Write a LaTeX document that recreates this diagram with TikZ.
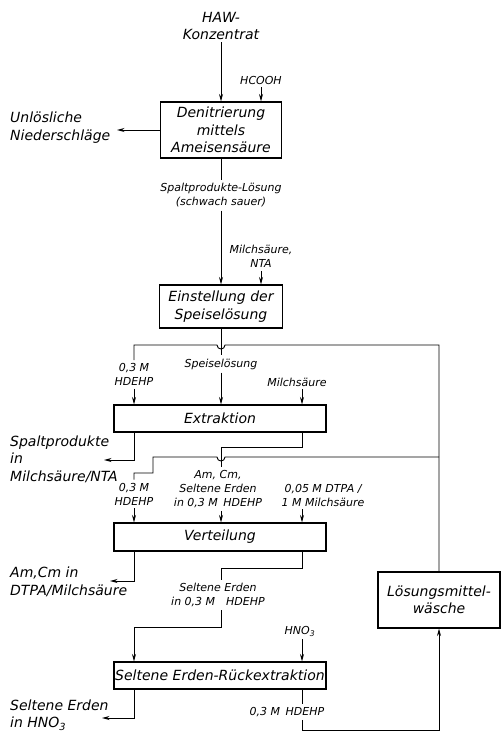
\documentclass[tikz,border=0pt]{standalone}
\usepackage{fontspec}
\setmainfont{DejaVu Sans}
\usetikzlibrary{arrows.meta}
\begin{document}
\begin{tikzpicture}[x=1pt,y=-1pt,
  line/.style={line width=0.9pt},
  arr/.style={line width=0.9pt,-{Stealth[length=7.5pt,width=4pt]}},
  box/.style={draw,line width=1.1pt,inner sep=1pt,align=center,font=\itshape\fontsize{14}{17.5}\selectfont},
  big/.style={inner sep=2pt,align=center,font=\itshape\fontsize{14}{17.5}\selectfont},
  bigl/.style={inner sep=0pt,anchor=west,align=left,font=\itshape\fontsize{14}{17.5}\selectfont},
  small/.style={inner sep=3pt,align=center,font=\itshape\fontsize{11}{14}\selectfont}]
\useasboundingbox[fill=white] (0,0) rectangle (502,735);
% column coordinates
\coordinate (xL) at (134,0);
\coordinate (xM) at (221,0);
\coordinate (xR) at (302,0);
% boxes
\node[box,minimum width=121pt,minimum height=56pt] (b1) at (221,130) {Denitrierung\\mittels\\Ameisensäure};
\node[box,minimum width=123pt,minimum height=43pt] (b2) at (221,306.5) {Einstellung der\\Speiselösung};
\node[box,minimum width=212pt,minimum height=27pt] (b3) at (220,418.5) {Extraktion};
\node[box,minimum width=212pt,minimum height=28pt] (b4) at (220,537) {Verteilung};
\node[box,minimum width=212pt,minimum height=27pt] (b6) at (220,675.5) {Seltene Erden-Rückextraktion};
\node[box,minimum width=122pt,minimum height=56pt] (b5) at (439,600) {Lösungsmittel-\\wäsche};
% labels
\node[big] (haw) at (221,26) {HAW-\\Konzentrat};
\node[small] (hcooh) at (261,80) {HCOOH};
\node[bigl] (unl) at (10,127.5) {Unlösliche\\Niederschläge};
\node[small] (spalt) at (221,195.5) {Spaltprodukte-Lösung\\(schwach sauer)};
\node[small] (milch) at (261,256.5) {Milchsäure,\\NTA};
\node[small] (hd1) at (134,374.5) {0,3 M\\HDEHP};
\node[small] (speise) at (221,364) {Speiselösung};
\node[small] (mi2) at (297,382) {Milchsäure};
\node[bigl] (spnta) at (10,459) {Spaltprodukte\\in\\Milchsäure/NTA};
\node[small] (hd2) at (134,494) {0,3 M\\HDEHP};
\node[small] (amcm) at (218,489) {Am, Cm,\\Seltene Erden\\in 0,3 M\enspace HDEHP};
\node[small] (dtpa) at (323,495) {0,05 M DTPA /\\1 M Milchsäure};
\node[bigl] (amcm2) at (10,582) {Am,Cm in\\DTPA/Milchsäure};
\node[small] (se1) at (218,595) {Seltene Erden\\in 0,3 M\quad HDEHP};
\node[small] (hno) at (300,631) {HNO\textsubscript{3}};
\node[bigl] (se2) at (10,715) {Seltene Erden\\in HNO\textsubscript{3}};
\node[small] (hd3) at (287,712) {0,3 M\enspace HDEHP};
% free ends and junctions
\coordinate (unlE) at (117,130);
\coordinate (spE) at (104,460);
\coordinate (amE) at (110,581);
\coordinate (seE) at (102,718);
\coordinate (r1) at (439,345);
\coordinate (r2) at (439,457);
\coordinate (j1) at (221,447);
\coordinate (j2) at (221,568);
\coordinate (j3) at (221,627);
\coordinate (j4) at (439,730);
% connectors
\draw[arr] (haw.south) -- (b1.north);
\draw[arr] (hcooh.south) -- (hcooh.south |- b1.north);
\draw[arr] (b1.west) -- (unlE);
\draw[line] (b1.south) -- (spalt.north);
\draw[arr] (spalt.south) -- (b2.north);
\draw[arr] (milch.south) -- (milch.south |- b2.north);
\draw[line] (b2.south) -- (speise.north);
\draw[arr] (speise.south) -- (speise.south |- b3.north);
% recycle to extraction
\draw[line] (b5.north) -- (r1) -- (225,345) .. controls (225,350.3) and (217,350.3) .. (217,345) -- (134,345) -- (hd1.north);
\draw[arr] (hd1.south) -- (hd1.south |- b3.north);
\draw[arr] (mi2.south -| xR) -- (b3.north -| xR);
% extraction outputs
\draw[arr] (b3.south -| xL) |- (spE);
\draw[line] (b3.south -| xR) |- (j1) -- (amcm.north -| xM);
\draw[arr] (amcm.south -| xM) -- (b4.north -| xM);
% recycle branch to Verteilung
\draw[line] (r2) -- (225,457) .. controls (225,462.3) and (217,462.3) .. (217,457) -- (153,457) -- (153,473) -- (134,473) -- (hd2.north);
\draw[arr] (hd2.south) -- (hd2.south |- b4.north);
\draw[arr] (dtpa.south -| xR) -- (b4.north -| xR);
% Verteilung outputs
\draw[arr] (b4.south -| xL) |- (amE);
\draw[line] (b4.south -| xR) |- (j2) -- (se1.north -| xM);
\draw[arr] (se1.south -| xM) -- (j3) -| (b6.north -| xL);
\draw[arr] (hno.south -| xR) -- (b6.north -| xR);
% Rueckextraktion outputs
\draw[arr] (b6.south -| xL) |- (seE);
\draw[line] (b6.south -| xR) -- (hd3.north -| xR);
\draw[arr] (hd3.south -| xR) |- (j4) -- (b5.south);
\end{tikzpicture}
\end{document}
